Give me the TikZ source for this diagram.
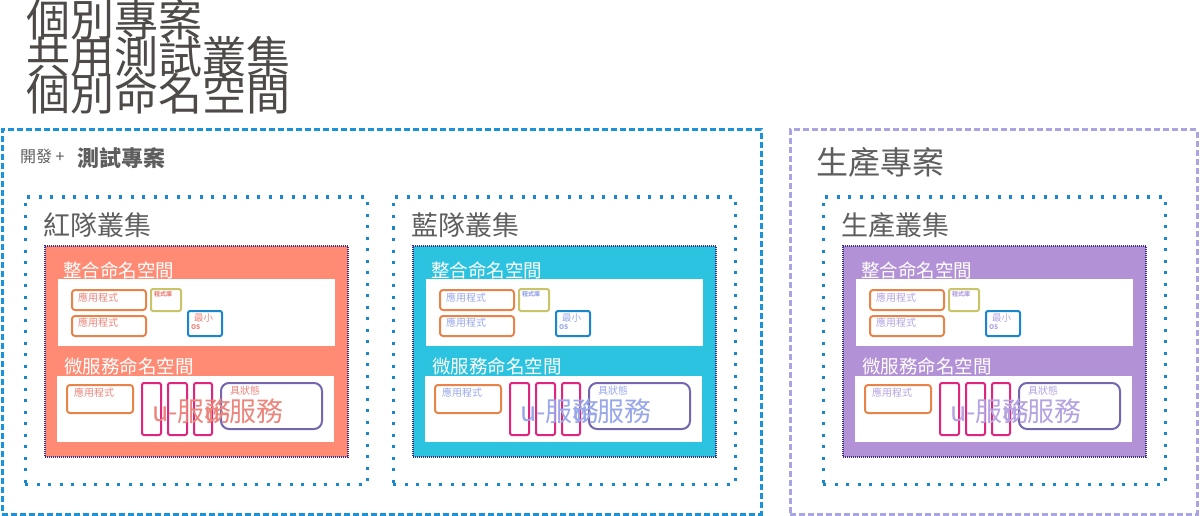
\documentclass[tikz,border=0pt]{standalone}
\usepackage{fontspec}
\setmainfont{Noto Sans CJK TC}
\definecolor{titlegray}{HTML}{4D4A48}
\definecolor{labgray}{HTML}{5E5E5E}
\definecolor{azure}{HTML}{1B93DB}
\definecolor{lav}{HTML}{A9A4E3}
\definecolor{dotblue}{HTML}{1A87CB}
\definecolor{nsborder}{HTML}{3B2F8A}
\definecolor{redfill}{HTML}{FF8B74}
\definecolor{bluefill}{HTML}{2BC3E0}
\definecolor{purpfill}{HTML}{B391D7}
\definecolor{redtxt}{HTML}{EC857C}
\definecolor{bluetxt}{HTML}{98A8EA}
\definecolor{purptxt}{HTML}{B5A3E2}
\definecolor{appborder}{HTML}{E8834A}
\definecolor{libborder}{HTML}{C9C36A}
\definecolor{osborder}{HTML}{1A86CC}
\definecolor{pinkborder}{HTML}{E0257E}
\definecolor{stateborder}{HTML}{7566B0}
\newcommand\mybox[6]{\node[#1, anchor=north west, inner sep=0pt, outer sep=0pt, minimum width={(#5)-(#3)}, minimum height={(#6)-(#4)}] (#2) at (#3,#4) {};}
\tikzset{
  projA/.style={draw=azure, line width=3pt, dash pattern=on 6pt off 3pt},
  projB/.style={draw=lav, line width=3pt, dash pattern=on 6pt off 3pt},
  clusterbox/.style={draw=dotblue, line width=3pt, dash pattern=on 3pt off 8.5pt},
  nsbox/.style={draw=nsborder, line width=1.3pt, dash pattern=on 1pt off 1pt},
  whitebox/.style={fill=white},
  appbox/.style={draw=appborder, line width=2pt, rounded corners=3pt},
  libbox/.style={draw=libborder, line width=2pt, rounded corners=2pt},
  osbox/.style={draw=osborder, line width=2pt, rounded corners=2pt},
  pinkbox/.style={draw=pinkborder, line width=2pt, rounded corners=2pt},
  statebox/.style={draw=stateborder, line width=2pt, rounded corners=8pt},
  lbl/.style={anchor=west, inner sep=0pt, outer sep=0pt},
  title/.style={lbl, text=titlegray, font=\fontsize{44}{44}\selectfont},
  clustertitle/.style={lbl, text=labgray, font=\fontsize{27}{27}\selectfont},
  nstitle/.style={lbl, text=white, font=\fontsize{18.5}{18.5}\selectfont},
}
\begin{document}
\begin{tikzpicture}[x=1pt,y=-1pt]
\useasboundingbox[fill=white] (0,0) rectangle (1200,516);
% title
\node[title] (t1) at (27,20) {個別專案};
\node[title] (t2) at (27,57) {共用測試叢集};
\node[title] (t3) at (27,94) {個別命名空間};
% projects
\mybox{projA}{devproj}{2}{130}{761}{514}
\mybox{projB}{prodproj}{790}{130}{1197}{514}
\node[lbl, text=labgray, font=\fontsize{16}{16}\selectfont] (devlbl) at (20,156) {開發 +};
\node[lbl, text=labgray, font=\fontsize{22}{22}\bfseries\selectfont] (devlbl2) at (77,158) {測試專案};
\node[lbl, text=labgray, font=\fontsize{32}{32}\selectfont] (prodlbl) at (816,162) {生產專案};
% clusters
\foreach \dx/\fc/\tc/\cname/\id in {0/redfill/redtxt/紅隊叢集/r, 368/bluefill/bluetxt/藍隊叢集/b, 798/purpfill/purptxt/生產叢集/p}{
  \mybox{clusterbox}{cl\id}{25+\dx}{197}{367+\dx}{484}
  \node[clustertitle] (clt\id) at (43+\dx,225) {\cname};
  \mybox{nsbox, fill=\fc}{ns\id}{45+\dx}{246}{348+\dx}{457}
  \node[nstitle] (nst1\id) at (63+\dx,270) {整合命名空間};
  \mybox{whitebox}{wb1\id}{58+\dx}{279}{335+\dx}{346}
  \mybox{appbox}{appa\id}{72+\dx}{290}{146+\dx}{310}
  \node[lbl, text=\tc, font=\fontsize{10}{10}\selectfont] (appal\id) at (78+\dx,298) {應用程式};
  \mybox{appbox}{appb\id}{72+\dx}{316}{146+\dx}{336}
  \node[lbl, text=\tc, font=\fontsize{10}{10}\selectfont] (appbl\id) at (78+\dx,323) {應用程式};
  \mybox{libbox}{lib\id}{151+\dx}{289}{181+\dx}{311}
  \node[lbl, text=\tc, font=\fontsize{6}{6}\bfseries\selectfont] (libl\id) at (154+\dx,294) {程式庫};
  \mybox{osbox}{os\id}{188+\dx}{311}{222+\dx}{336}
  \node[lbl, text=\tc, font=\fontsize{9.5}{9.5}\selectfont] (osl\id) at (194+\dx,318) {最小};
  \node[lbl, text=\tc, font=\fontsize{6.5}{6.5}\bfseries\selectfont] (osl2\id) at (191+\dx,327) {OS};
  \node[nstitle] (nst2\id) at (64+\dx,366) {微服務命名空間};
  \mybox{whitebox}{wb2\id}{57+\dx}{376}{334+\dx}{442}
  \mybox{appbox}{appc\id}{67+\dx}{385}{133+\dx}{413}
  \node[lbl, text=\tc, font=\fontsize{10}{10}\selectfont] (appcl\id) at (74+\dx,393) {應用程式};
  \mybox{pinkbox}{pk1\id}{142+\dx}{383}{161+\dx}{435}
  \mybox{pinkbox}{pk2\id}{168+\dx}{383}{187+\dx}{435}
  \mybox{pinkbox}{pk3\id}{194+\dx}{383}{212+\dx}{435}
  \mybox{statebox}{st\id}{221+\dx}{383}{322+\dx}{429}
  \node[lbl, text=\tc, font=\fontsize{10}{10}\selectfont] (stl\id) at (230+\dx,391) {具狀態};
  \node[lbl, text=\tc, font=\fontsize{27}{27}\selectfont] (ms1\id) at (152+\dx,411) {u-服務};
  \node[anchor=east, inner sep=0pt, text=\tc, font=\fontsize{27}{27}\selectfont] (ms2\id) at (284+\dx,411) {u-服務};
}
\end{tikzpicture}
\end{document}
